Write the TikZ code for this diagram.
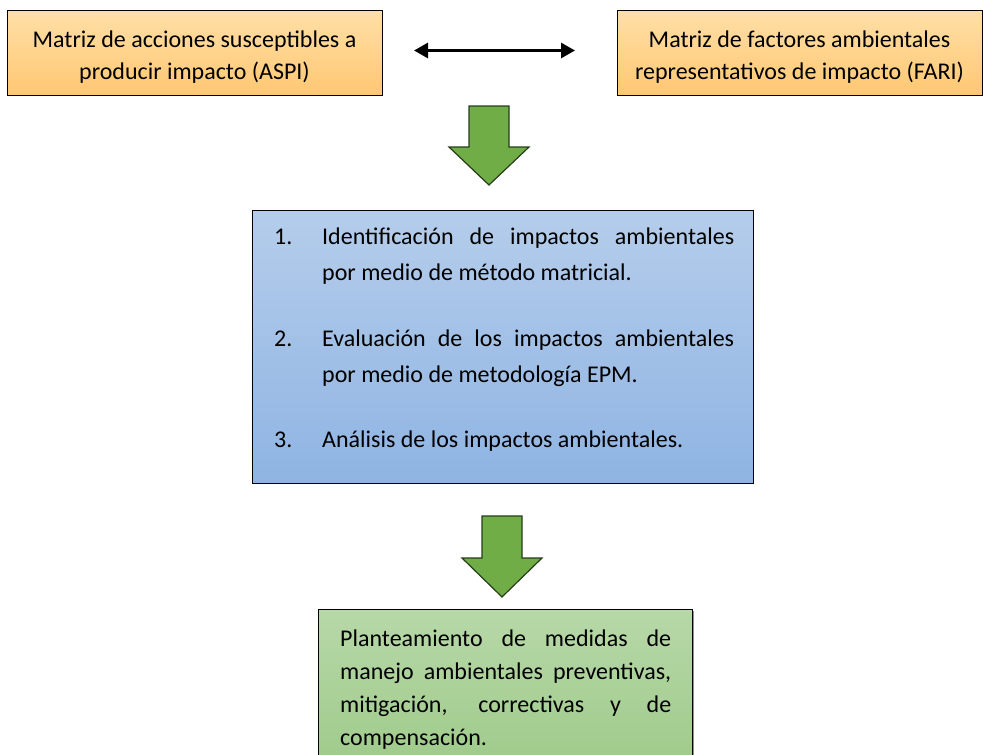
\documentclass[tikz,border=0pt]{standalone}
\usepackage{fontspec}
\setmainfont{Carlito}
\usetikzlibrary{arrows.meta,shadows}
\definecolor{orTop}{HTML}{FFDFA8}
\definecolor{orBot}{HTML}{FFC872}
\definecolor{blTop}{HTML}{B5CDEB}
\definecolor{blBot}{HTML}{8FB4E3}
\definecolor{grTop}{HTML}{B7D8A8}
\definecolor{grBot}{HTML}{9CC987}
\definecolor{arrFill}{HTML}{70AD47}
\definecolor{arrLine}{HTML}{263D18}
\tikzset{
  boxbase/.style={draw=black, line width=1pt, rectangle, inner sep=0pt,
    drop shadow={shadow xshift=1.2pt, shadow yshift=-1.2pt, fill=black!55, opacity=0.8}},
  orangebox/.style={boxbase, top color=orTop, bottom color=orBot},
  bluebox/.style={boxbase, top color=blTop, bottom color=blBot},
  greenbox/.style={boxbase, top color=grTop, bottom color=grBot},
  txt/.style={inner sep=0pt, anchor=base, font=\fontsize{24}{32}\selectfont},
  blockarrow/.style={fill=arrFill, draw=arrLine, line width=1.2pt, line join=miter},
  dblarrow/.style={line width=3pt, {Triangle[length=14pt,width=15pt]}-{Triangle[length=14pt,width=15pt]}}
}
\begin{document}
\begin{tikzpicture}[x=1pt,y=-1pt]
\useasboundingbox (0,0) rectangle (983,755);
\clip (0,0) rectangle (983,755);
% top boxes
\node[orangebox, minimum width=375pt, minimum height=85pt] (aspi) at (194.5,52.5) {};
\node[orangebox, minimum width=365pt, minimum height=85pt] (fari) at (799.5,52.5) {};
\node[txt] (aspit) at (194.5,47) {\parbox[t]{370pt}{\centering\fontsize{24}{32}\selectfont Matriz de acciones susceptibles a\\ producir impacto (ASPI)}};
\node[txt] (farit) at (799.5,47) {\parbox[t]{370pt}{\centering\fontsize{24}{32}\selectfont Matriz de factores ambientales\\ representativos de impacto (FARI)}};
% double arrow
\coordinate (dl) at (414,50.5);
\coordinate (dr) at (575,50.5);
\draw[dblarrow] (dl) -- (dr);
% green arrow 1
\draw[blockarrow] (469,106) -- (509,106) -- (509,147) -- (529,147) -- (489,185) -- (449,147) -- (469,147) -- cycle;
% blue box
\node[bluebox, minimum width=501pt, minimum height=273pt] (proc) at (502.5,346.5) {};
\node[txt, anchor=base west] (proct) at (274,244.6) {\parbox[t]{460pt}{\fontsize{24}{36}\selectfont\hyphenpenalty=10000\exhyphenpenalty=10000
\hangindent=48pt\hangafter=1\noindent\makebox[48pt][l]{1.}Identificación de impactos ambientales por medio de método matricial.\par
\vspace{30pt}
\hangindent=48pt\hangafter=1\noindent\makebox[48pt][l]{2.}Evaluación de los impactos ambientales por medio de metodología EPM.\par
\vspace{29pt}
\hangindent=48pt\hangafter=1\noindent\makebox[48pt][l]{3.}Análisis de los impactos ambientales.\par}};
% green arrow 2
\draw[blockarrow] (482,516) -- (522,516) -- (522,558) -- (542,558) -- (502,597) -- (462,558) -- (482,558) -- cycle;
% green box
\node[greenbox, minimum width=374pt, minimum height=180pt, anchor=north west] (medidas) at (318,609) {};
\node[txt, anchor=base west] (medidast) at (340,646) {\parbox[t]{331pt}{\fontsize{24}{33}\selectfont\hyphenpenalty=10000\exhyphenpenalty=10000\noindent
Planteamiento de medidas de manejo ambientales preventivas, mitigación, correctivas y de compensación.\par}};
\end{tikzpicture}
\end{document}
